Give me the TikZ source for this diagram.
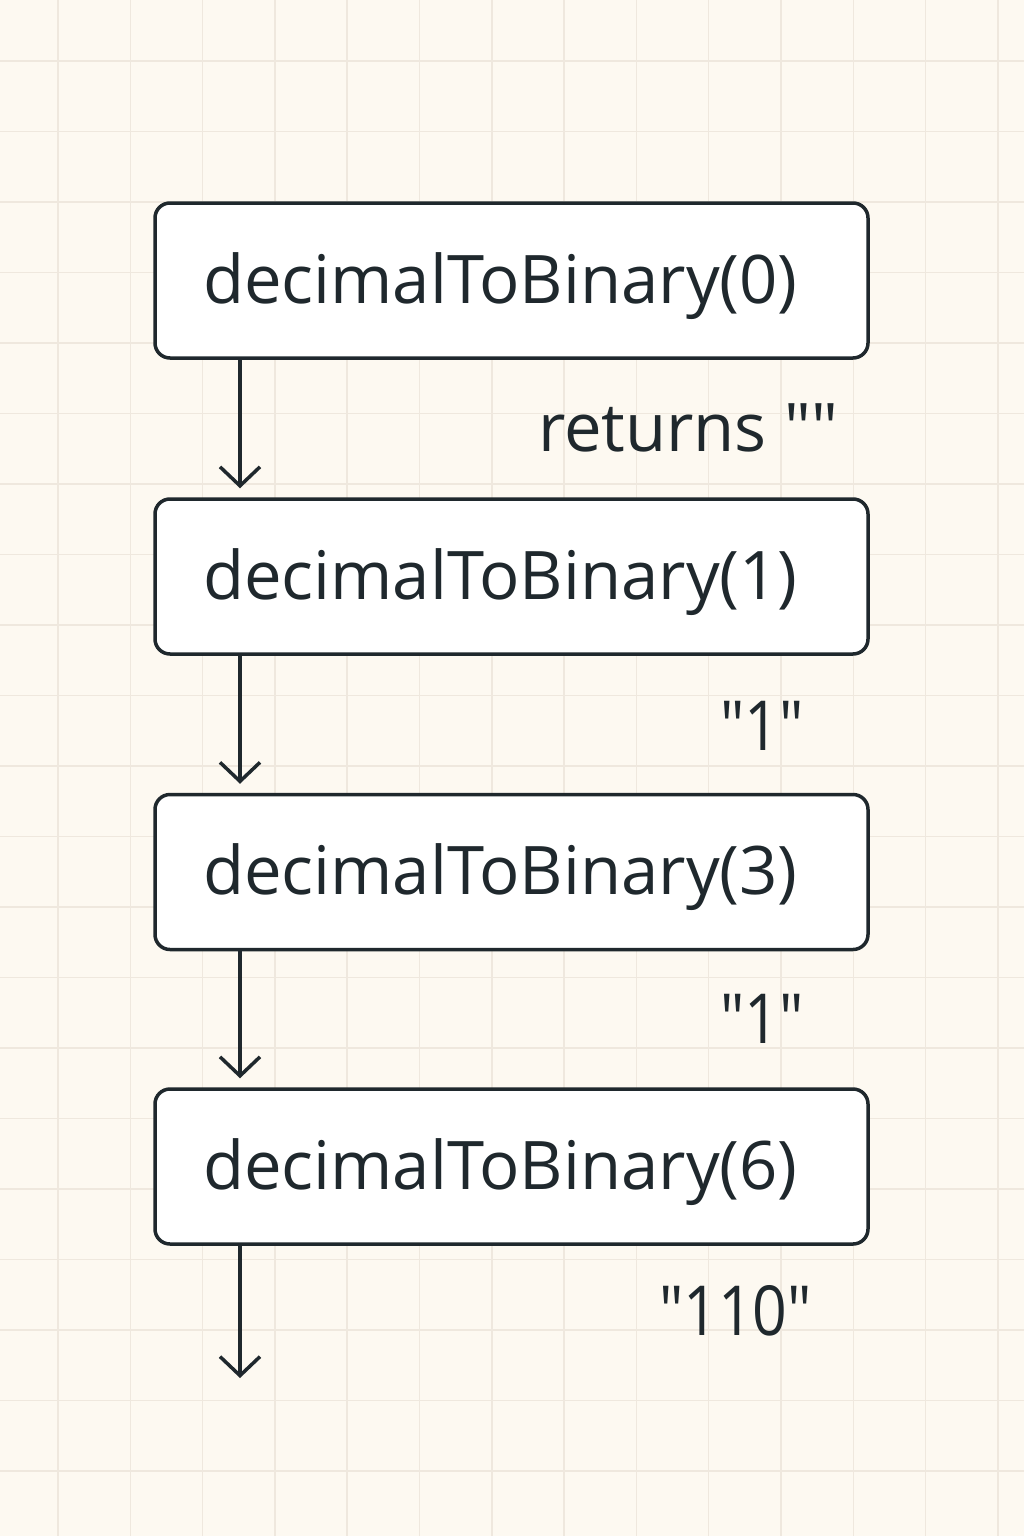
\documentclass[tikz,border=0pt]{standalone}
\usepackage{fontspec}
\setmainfont{Open Sans}[Ligatures=TeXOff]
\newfontfamily\narrowfont{Open Sans}[Ligatures=TeXOff, FakeStretch=0.88]
\usetikzlibrary{arrows.meta}
\definecolor{bg}{HTML}{FDF9F1}
\definecolor{gridc}{HTML}{EFE8DE}
\definecolor{ink}{HTML}{1F282D}
\tikzset{
  callbox/.style={draw=ink, fill=white, line width=3.5pt, rounded corners=15pt,
    minimum width=713pt, minimum height=155pt, inner xsep=48pt, inner ysep=0pt,
    text width=617pt, align=left, text height=60pt, text depth=15pt,
    font=\fontsize{67}{70}\selectfont, text=ink},
  retlabel/.style={anchor=base, inner sep=0pt, font=\fontsize{67}{70}\selectfont, text=ink},
  numlabel/.style={retlabel, font=\narrowfont\fontsize{69}{72}\selectfont},
  arr/.style={draw=ink, line width=3.5pt, -{Straight Barb[length=19pt,width=40pt,line width=3.5pt]}},
}
\begin{document}
\begin{tikzpicture}[x=1pt,y=-1pt]
\fill[bg] (0,0) rectangle (1024,1536);
\useasboundingbox (0,0) rectangle (1024,1536);
% grid
\foreach \k in {0,...,13} {\draw[gridc, line width=1.5pt] ({58+72.3*\k},0) -- ({58+72.3*\k},1536);}
\foreach \k in {0,...,20} {\draw[gridc, line width=1.5pt] (0,{61+70.5*\k}) -- (1024,{61+70.5*\k});}
% boxes
\node[callbox] (b0) at (511.5,280.5) {decimalToBinary(0)};
\node[callbox] (b1) at (511.5,576.5) {decimalToBinary(1)};
\node[callbox] (b2) at (511.5,872) {decimalToBinary(3)};
\node[callbox] (b3) at (511.5,1166.5) {decimalToBinary(6)};
\coordinate (ax) at (240,0);
\coordinate (end) at (240,1378);
% arrows
\draw[arr] (b0.south -| ax) -- ([yshift=9pt]b1.north -| ax);
\draw[arr] (b1.south -| ax) -- ([yshift=9pt]b2.north -| ax);
\draw[arr] (b2.south -| ax) -- ([yshift=9pt]b3.north -| ax);
\draw[arr] (b3.south -| ax) -- (end);
% labels
\node[retlabel] (l0) at (688,451) {returns ""};
\node[numlabel] (l1) at (762,750) {"1"};
\node[numlabel] (l2) at (762,1043) {"1"};
\node[numlabel] (l3) at (735.5,1335) {"110"};
\end{tikzpicture}
\end{document}
